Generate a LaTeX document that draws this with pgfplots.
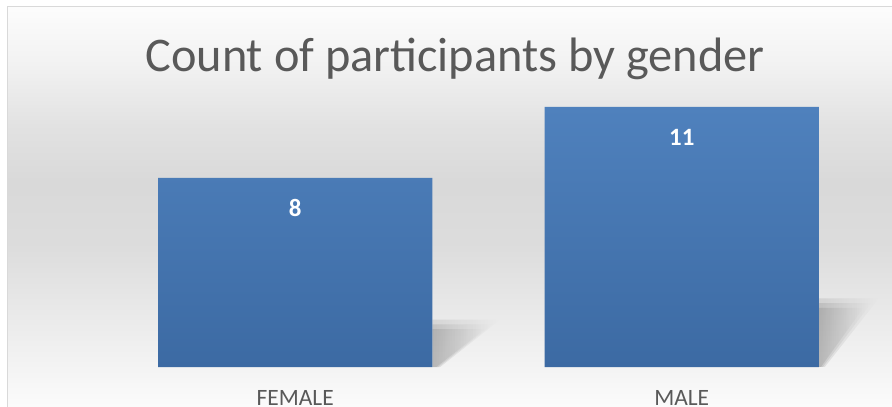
\documentclass[border=0pt]{standalone}
\usepackage{pgfplots}
\pgfplotsset{compat=1.18}
\usepackage{fontspec}
\setmainfont{Carlito}
\usetikzlibrary{fadings}
\definecolor{bartop}{RGB}{79,129,189}
\definecolor{barbot}{RGB}{60,106,163}
\definecolor{txtgray}{RGB}{89,89,89}
\definecolor{g0}{gray}{0.985}
\definecolor{g1}{gray}{0.925}
\definecolor{g2}{gray}{0.865}
\definecolor{g3}{gray}{0.85}
\definecolor{g4}{gray}{0.885}
\definecolor{g5}{gray}{0.95}
\definecolor{g6}{gray}{0.99}
\pgfdeclareverticalshading{bgshade}{100bp}{color(0bp)=(g0); color(25bp)=(g0); color(35bp)=(g1); color(45bp)=(g2); color(53bp)=(g3); color(60bp)=(g4); color(68bp)=(g5); color(75bp)=(g6); color(100bp)=(g6)}
\begin{document}
\begin{tikzpicture}
\path[use as bounding box] (0,0) rectangle (892bp,407bp);
\clip (0,0) rectangle (892bp,407bp);
\fill[white] (0,0) rectangle (892bp,407bp);
\shade[shading=bgshade] (7.5bp,0) rectangle (892bp,400.5bp);
\draw[color=black!15, line width=1bp] (7.5bp,-2bp) -- (7.5bp,400.5bp) -- (895bp,400.5bp);
\node[anchor=base, font=\fontsize{48.5}{54}\selectfont, text=txtgray] at (455bp,335bp) {Count of participants by gender};
\begin{axis}[
  at={(102bp,40bp)}, anchor=south west,
  scale only axis, width=773bp, height=331bp,
  xmin=-0.5, xmax=1.5, ymin=0, ymax=14,
  clip=false,
  axis line style={draw=none},
  ytick=\empty,
  xtick=data, xticklabels={FEMALE,MALE},
  major tick length=0pt,
  xticklabel style={font=\fontsize{23.5}{26}\selectfont, text=txtgray, inner sep=0pt, anchor=north, yshift=-23bp},
  ybar, bar width=0.71,
  nodes near coords,
  /pgf/number format/assume math mode=true,
  every node near coord/.append style={anchor=center, yshift=-30bp, text=white, font=\bfseries\fontsize{25}{30}\selectfont},
]
\fill[black, opacity=0.09, path fading=east] (axis cs:0.355,0) -- (axis cs:0.355,2.0) -- (axis cs:0.53,2.0) -- (axis cs:0.375,0) -- cycle;
\fill[black, opacity=0.09, path fading=east] (axis cs:0.355,0) -- (axis cs:0.355,1.8) -- (axis cs:0.51,1.8) -- (axis cs:0.37,0) -- cycle;
\fill[black, opacity=0.09, path fading=east] (axis cs:0.355,0) -- (axis cs:0.355,1.6) -- (axis cs:0.49,1.6) -- (axis cs:0.365,0) -- cycle;
\fill[black, opacity=0.09, path fading=east] (axis cs:1.355,0) -- (axis cs:1.355,2.9) -- (axis cs:1.51,2.9) -- (axis cs:1.37,0) -- cycle;
\fill[black, opacity=0.09, path fading=east] (axis cs:1.355,0) -- (axis cs:1.355,2.7) -- (axis cs:1.49,2.7) -- (axis cs:1.365,0) -- cycle;
\fill[black, opacity=0.09, path fading=east] (axis cs:1.355,0) -- (axis cs:1.355,2.5) -- (axis cs:1.47,2.5) -- (axis cs:1.36,0) -- cycle;
\addplot[draw=none, top color=bartop, bottom color=barbot] coordinates {(0,8) (1,11)};
\end{axis}
\end{tikzpicture}
\end{document}
